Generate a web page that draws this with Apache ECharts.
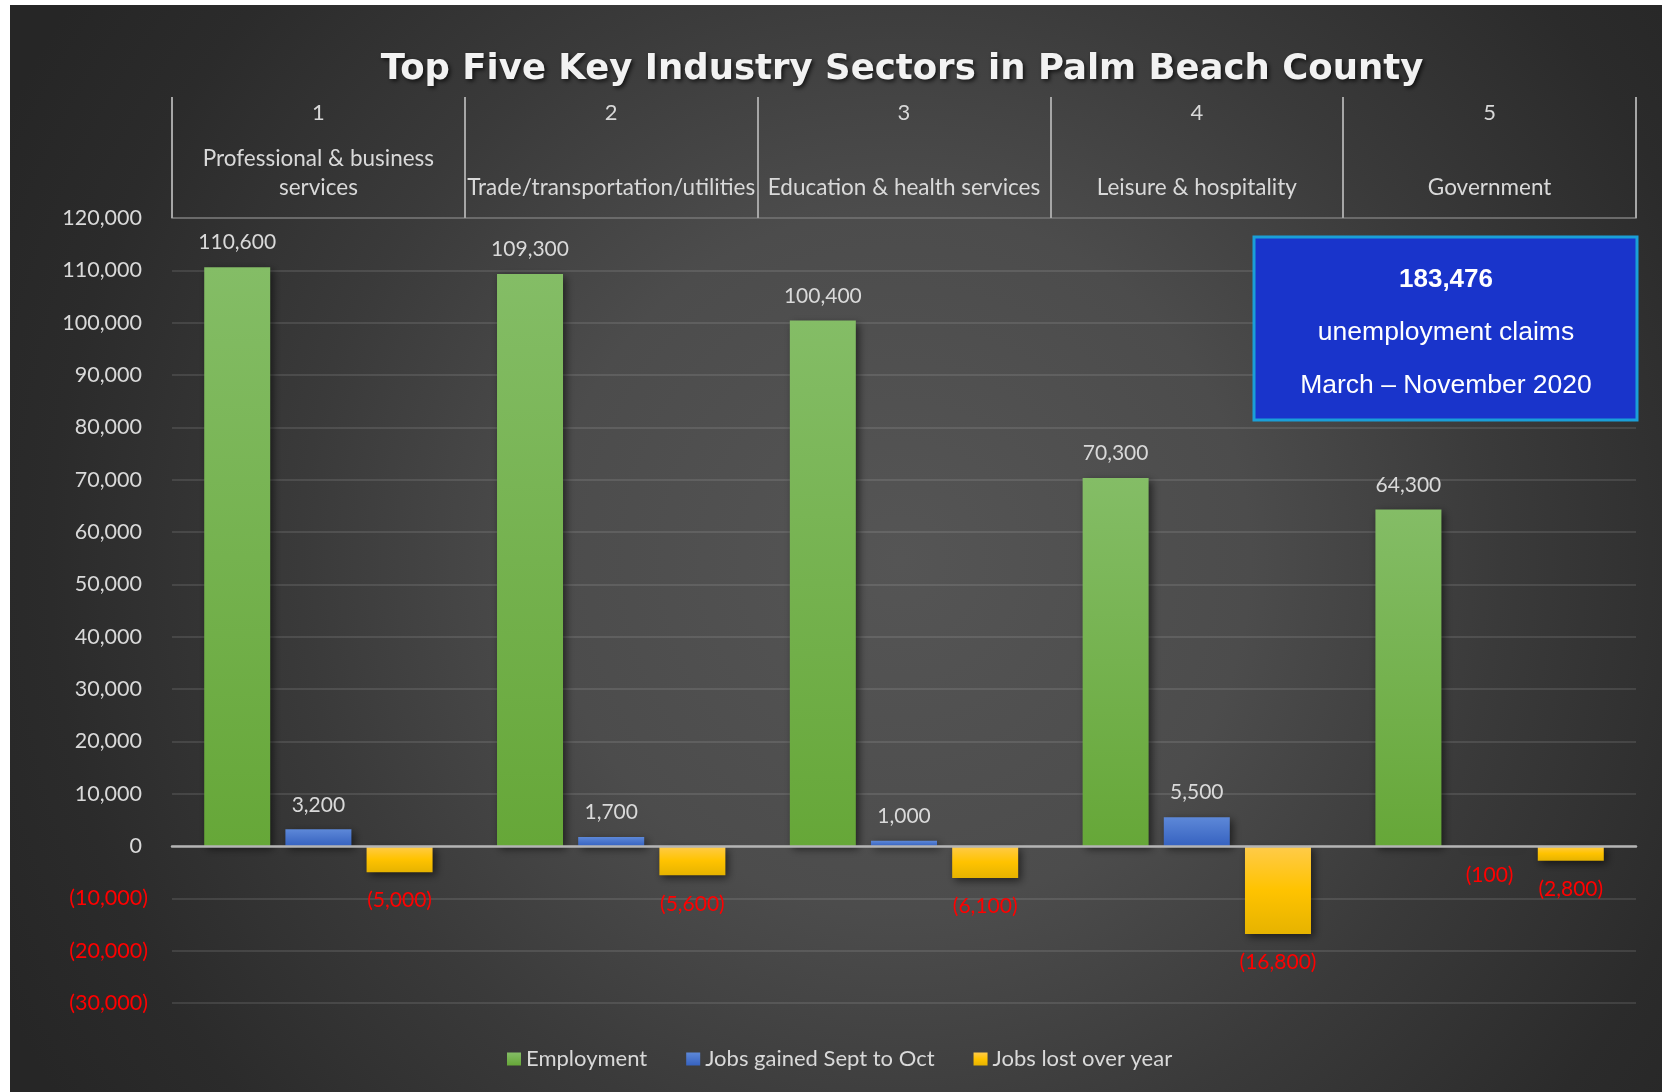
<!DOCTYPE html>
<html><head><meta charset="utf-8">
<script src="https://cdn.jsdelivr.net/npm/echarts@6/dist/echarts.min.js"></script>
<style>html,body{margin:0;padding:0;background:#fff;}#c{width:1665px;height:1092px;}</style>
</head><body><div id="c"></div>
<script>
// ---- data ----
const titleText = 'Top Five Key Industry Sectors in Palm Beach County';
const ranks = ['1', '2', '3', '4', '5'];
const sectors = ['Professional & business services', 'Trade/transportation/utilities', 'Education & health services', 'Leisure & hospitality', 'Government'];
const seriesNames = ['Employment', 'Jobs gained Sept to Oct', 'Jobs lost over year'];
const employment = [110600, 109300, 100400, 70300, 64300];
const jobsGained = [3200, 1700, 1000, 5500, -100];
const jobsLost = [-5000, -5600, -6100, -16800, -2800];
const yMin = -30000, yMax = 120000, yStep = 10000;
const calloutLines = ['183,476', 'unemployment claims', 'March \u2013 November 2020'];

// ---- helpers ----
const FONT = 'Lato';
function fmt(v) {
  const s = Math.abs(v).toLocaleString('en-US');
  return v < 0 ? '(' + s + ')' : s;
}
const mctx = document.createElement('canvas').getContext('2d');
function wrap(text, maxW, font) {
  mctx.font = font;
  const words = text.split(' ');
  const lines = [];
  let cur = '';
  words.forEach(w => {
    const t = cur ? cur + ' ' + w : w;
    if (cur && mctx.measureText(t).width > maxW) { lines.push(cur); cur = w; }
    else cur = t;
  });
  if (cur) lines.push(cur);
  return lines;
}

function barSeries(name, values, stops) {
  return {
    name: name,
    type: 'bar',
    xAxisIndex: 0,
    barWidth: 66,
    barGap: '23%',
    itemStyle: {
      color: { type: 'linear', x: 0, y: 0, x2: 0, y2: 1, colorStops: stops },
      shadowBlur: 8, shadowColor: 'rgba(0,0,0,0.55)', shadowOffsetX: 3, shadowOffsetY: 3
    },
    label: {
      show: true, fontFamily: FONT, fontSize: 21, distance: 14,
      formatter: p => fmt(p.value)
    },
    data: values.map(v => ({
      value: v,
      label: v < 0
        ? { position: 'bottom', color: '#ff0000', distance: 18 }
        : { position: 'top', color: '#d9d9d9', distance: 14 }
    }))
  };
}

const chart = echarts.init(document.getElementById('c'), null, { renderer: 'canvas' });

const option = {
  animation: false,
  title: {
    text: titleText,
    left: 897, top: 47, textAlign: 'center',
    textStyle: {
      fontFamily: 'DejaVu Sans', fontWeight: 'bold', fontSize: 35.5, color: '#f2f2f2',
      textShadowColor: 'rgba(0,0,0,0.7)', textShadowBlur: 4, textShadowOffsetX: 2, textShadowOffsetY: 2
    }
  },
  grid: { left: 172, right: 29, top: 218, bottom: 89, containLabel: false },
  legend: {
    data: seriesNames,
    left: 502, top: 1043,
    icon: 'rect', itemWidth: 14, itemHeight: 13, itemGap: 39,
    textStyle: { fontFamily: FONT, fontSize: 22, color: '#d9d9d9' }
  },
  xAxis: [{
    type: 'category',
    data: sectors,
    position: 'top',
    axisLine: { show: true, onZero: false, lineStyle: { color: '#6a6a6a', width: 2 } },
    axisTick: { show: true, length: 121, lineStyle: { color: '#a6a6a6', width: 2 } },
    axisLabel: {
      interval: 0, margin: 16,
      color: '#d9d9d9', fontFamily: FONT, fontSize: 22.5,
      formatter: (val, idx) => {
        let lines = wrap(val, 285, '22.5px ' + FONT);
        if (lines.length < 2) lines = [' '].concat(lines);
        return '{n|' + ranks[idx] + '}\n' + lines.map(l => '{t|' + l + '}').join('\n');
      },
      rich: {
        n: { lineHeight: 63, fontFamily: FONT, fontSize: 22, color: '#d9d9d9', align: 'center' },
        t: { lineHeight: 29, fontFamily: FONT, fontSize: 22.5, color: '#d9d9d9', align: 'center' }
      }
    },
    splitLine: { show: false }
  }, {
    type: 'category',
    data: sectors,
    position: 'bottom',
    z: 5,
    axisLine: { show: true, onZero: true, lineStyle: { color: '#b4b4b4', width: 2.5 } },
    axisTick: { show: false },
    axisLabel: { show: false },
    splitLine: { show: false }
  }],
  yAxis: {
    type: 'value',
    min: yMin, max: yMax, interval: yStep,
    axisLine: { show: false },
    axisTick: { show: false },
    splitLine: { show: true, lineStyle: { color: 'rgba(220,220,220,0.13)', width: 2 } },
    axisLabel: {
      margin: 24,
      formatter: v => v < 0 ? '{neg|' + fmt(v) + '}' : '{pos|' + fmt(v) + '}',
      rich: {
        pos: { color: '#d9d9d9', fontFamily: FONT, fontSize: 21.5, padding: [0, 6, 0, 0] },
        neg: { color: '#ff0000', fontFamily: FONT, fontSize: 21.5 }
      }
    }
  },
  graphic: [
    {
      type: 'rect', z: -100, silent: true,
      shape: { x: 10, y: 5, width: 1652, height: 1087 },
      style: {
        fill: {
          type: 'radial', x: 900, y: 560, r: 1000, global: true,
          colorStops: [
            { offset: 0, color: '#555555' },
            { offset: 0.35, color: '#4c4c4c' },
            { offset: 0.6, color: '#3a3a3a' },
            { offset: 0.85, color: '#2b2b2b' },
            { offset: 1, color: '#262626' }
          ]
        }
      }
    },
    {
      type: 'group', z: 100,
      children: [
        {
          type: 'rect', z: 100,
          shape: { x: 1254, y: 237, width: 383, height: 183 },
          style: { fill: '#1934cb', stroke: '#1a9fd8', lineWidth: 3 }
        },
        {
          type: 'text', z: 101, x: 1446, y: 280,
          style: { text: calloutLines[0], fill: '#ffffff', font: 'bold 26px "Liberation Sans", Arial', textAlign: 'center', textVerticalAlign: 'middle' }
        },
        {
          type: 'text', z: 101, x: 1446, y: 333,
          style: { text: calloutLines[1], fill: '#ffffff', font: '26.5px "Liberation Sans", Arial', textAlign: 'center', textVerticalAlign: 'middle' }
        },
        {
          type: 'text', z: 101, x: 1446, y: 386,
          style: { text: calloutLines[2], fill: '#ffffff', font: '26.5px "Liberation Sans", Arial', textAlign: 'center', textVerticalAlign: 'middle' }
        }
      ]
    }
  ],
  series: [
    barSeries(seriesNames[0], employment, [
      { offset: 0, color: '#84bd66' }, { offset: 1, color: '#66a738' }
    ]),
    barSeries(seriesNames[1], jobsGained, [
      { offset: 0, color: '#5d88d8' }, { offset: 1, color: '#3662c0' }
    ]),
    barSeries(seriesNames[2], jobsLost, [
      { offset: 0, color: '#ffcb4a' }, { offset: 0.5, color: '#ffc300' }, { offset: 1, color: '#e6b300' }
    ])
  ]
};
chart.setOption(option);
</script>
</body></html>
